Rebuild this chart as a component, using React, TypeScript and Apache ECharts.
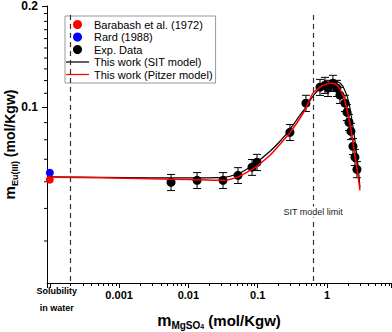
import React, { useEffect, useRef } from 'react';
import * as echarts from 'echarts';

const FONT = '"Liberation Sans", Arial, Helvetica, sans-serif';

// Axis ranges
const X_MIN = 9.1e-5;
const X_MAX = 8.4;
const Y_MIN = 0.03;
const Y_MAX = 0.2;

// Tick labels
const xTickExps = [-4, -3, -2, -1, 0];
const xTickTexts = ['{a|Solubility}\n{b|in water}', '0.001', '0.01', '0.1', '1'];
const yTickValues = [0.1, 0.2];
const yTickTexts = ['0.1', '0.2'];
const yMinorTicks = [0.04, 0.05, 0.06, 0.07, 0.08, 0.09, 0.11, 0.12, 0.13, 0.14, 0.15, 0.16, 0.17, 0.18, 0.19];

// Solubility in water
const barabashX = [1e-4];
const barabashY = [0.0609];
const rardX = [1e-4];
const rardY = [0.0638];

// Experimental data
const expX = [0.00562, 0.01334, 0.0316, 0.052, 0.0828, 0.0978, 0.292, 0.497, 0.793, 0.936, 1.034, 1.22, 1.394, 1.54, 1.818, 1.943, 2.076, 2.219, 2.371, 2.535, 2.709];
const expY = [0.0598, 0.0606, 0.0606, 0.0627, 0.0663, 0.0686, 0.0842, 0.1028, 0.1147, 0.1163, 0.1139, 0.1179, 0.1139, 0.1086, 0.1028, 0.0966, 0.0902, 0.0848, 0.0765, 0.071, 0.0653];
const expErr = [0.0033, 0.0033, 0.0033, 0.0034, 0.0036, 0.0038, 0.0046, 0.0057, 0.0063, 0.0064, 0.0063, 0.0065, 0.0063, 0.006, 0.0057, 0.0053, 0.005, 0.0047, 0.0042, 0.0039, 0.0036];

// SIT model
const sitX = [1e-4, 5.32e-4, 0.0028, 0.01473, 0.0316, 0.052, 0.0828, 0.1011, 0.1506, 0.21, 0.2926, 0.408, 0.498, 0.628, 0.793, 1.034, 1.394, 1.646, 1.879, 2.076, 2.294, 2.534, 2.8, 2.992];
const sitY = [0.06207, 0.06186, 0.06165, 0.06165, 0.06186, 0.06337, 0.06693, 0.06902, 0.07394, 0.0792, 0.08597, 0.09466, 0.1, 0.1078, 0.1139, 0.1175, 0.1191, 0.1163, 0.1101, 0.1028, 0.09146, 0.07976, 0.06717, 0.05776];

// Pitzer model
const pitX = [1e-4, 5.32e-4, 0.0028, 0.01473, 0.0316, 0.052, 0.0828, 0.1011, 0.1506, 0.21, 0.3025, 0.408, 0.498, 0.628, 0.793, 0.967, 1.181, 1.441, 1.701, 1.879, 2.076, 2.294, 2.534, 2.8, 2.992];
const pitY = [0.06186, 0.06165, 0.06122, 0.0608, 0.06059, 0.06207, 0.06534, 0.06717, 0.07193, 0.07757, 0.08482, 0.09273, 0.09932, 0.1101, 0.1147, 0.1171, 0.1179, 0.1155, 0.1086, 0.1014, 0.09273, 0.08251, 0.07193, 0.06272, 0.05657];

// Reference lines
const waterLineX = 1.96e-4;
const sitLimitX = 0.63;
const refLineTop = 0.188;
const sitLabelY = 0.0488;

const LINE_ICON = 'path://M0,0 L24,0 L24,1.3 L0,1.3 Z';

const zip = (xs: number[], ys: number[]) => xs.map((x, i) => [x, ys[i]]);

export default function App() {
  const ref = useRef<HTMLDivElement>(null);
  useEffect(() => {
    if (!ref.current) return;
    const chart = echarts.init(ref.current, undefined, { renderer: 'svg' });
    const option: any = {
      animation: false,
      textStyle: { fontFamily: FONT },
      grid: { left: 47, right: 1, top: 6, bottom: 49, containLabel: false, outerBoundsMode: 'none' },
      legend: {
        left: 65,
        top: 16,
        orient: 'vertical',
        data: [
          { name: 'Barabash et al. (1972)', icon: 'circle' },
          { name: 'Rard (1988)', icon: 'circle' },
          { name: 'Exp. Data', icon: 'circle' },
          { name: 'This work (SIT model)', icon: LINE_ICON },
          { name: 'This work (Pitzer model)', icon: LINE_ICON },
        ],
        backgroundColor: '#fff',
        borderColor: '#999',
        borderWidth: 1,
        padding: [3, 3, 3, 1],
        itemGap: 1.5,
        itemWidth: 23,
        itemHeight: 9,
        textStyle: { fontSize: 11, color: '#000', fontFamily: FONT, lineHeight: 11 },
      },
      xAxis: {
        type: 'log',
        logBase: 10,
        min: X_MIN,
        max: X_MAX,
        axisLine: { lineStyle: { color: '#000', width: 1 } },
        axisTick: { show: true, length: 5, inside: false, lineStyle: { color: '#000' } },
        minorTick: { show: true, splitNumber: 9, length: 3, lineStyle: { color: '#000' } },
        splitLine: { show: false },
        minorSplitLine: { show: false },
        axisLabel: {
          margin: 6,
          fontSize: 11,
          fontWeight: 'bold',
          color: '#000',
          fontFamily: FONT,
          formatter: (v: number) => {
            const e = Math.log10(v);
            const r = Math.round(e);
            if (Math.abs(e - r) > 1e-6) return '';
            const idx = xTickExps.indexOf(r);
            return idx >= 0 ? xTickTexts[idx] : '';
          },
          rich: {
            a: { fontSize: 9, fontWeight: 'bold', color: '#000', fontFamily: FONT, lineHeight: 4, padding: [0, 0, 0, 14] },
            b: { fontSize: 9, fontWeight: 'bold', color: '#000', fontFamily: FONT, lineHeight: 30, padding: [0, 0, 0, 14] },
          },
        },
        name: '{m|m}{s|MgSO}{s2|4}{t| (mol/Kgw)}',
        nameLocation: 'middle',
        nameMoveOverlap: false,
        nameGap: 27,
        nameTextStyle: {
          rich: {
            m: { fontSize: 16, fontWeight: 'bold', color: '#000', fontFamily: FONT, lineHeight: 20 },
            s: { fontSize: 10, fontWeight: 'bold', color: '#000', fontFamily: FONT, verticalAlign: 'bottom', lineHeight: 12 },
            s2: { fontSize: 7, fontWeight: 'bold', color: '#000', fontFamily: FONT, verticalAlign: 'bottom', lineHeight: 7 },
            t: { fontSize: 15, fontWeight: 'bold', color: '#000', fontFamily: FONT, lineHeight: 20 },
          },
        },
      },
      yAxis: {
        type: 'log',
        logBase: 10,
        min: Y_MIN,
        max: Y_MAX,
        axisLine: { show: true, lineStyle: { color: '#000', width: 1 } },
        axisTick: { show: true, length: 5, inside: false, lineStyle: { color: '#000' } },
        minorTick: { show: false },
        splitLine: { show: false },
        axisLabel: {
          margin: 9,
          fontSize: 12,
          fontWeight: 'bold',
          color: '#000',
          fontFamily: FONT,
          showMinLabel: false,
          formatter: (v: number) => {
            for (let i = 0; i < yTickValues.length; i++) {
              if (Math.abs(v - yTickValues[i]) < 1e-6) return yTickTexts[i];
            }
            return '';
          },
        },
        name: '{m|m}{s|Eu(III)}{t| (mol/Kgw)}',
        nameLocation: 'middle',
        nameMoveOverlap: false,
        nameGap: 28,
        nameTextStyle: {
          rich: {
            m: { fontSize: 15, fontWeight: 'bold', color: '#000', fontFamily: FONT, lineHeight: 19 },
            s: { fontSize: 9, fontWeight: 'bold', color: '#000', fontFamily: FONT, verticalAlign: 'bottom', lineHeight: 11 },
            t: { fontSize: 14, fontWeight: 'bold', color: '#000', fontFamily: FONT, lineHeight: 19 },
          },
        },
      },
      series: [
        {
          type: 'custom',
          name: 'yMinor',
          silent: true,
          clip: false,
          data: yMinorTicks.map((v) => [X_MIN, v]),
          renderItem: (params: any, api: any) => {
            const p = api.coord([api.value(0), api.value(1)]);
            return {
              type: 'line',
              shape: { x1: p[0] - 3, y1: p[1], x2: p[0], y2: p[1] },
              style: { stroke: '#000', lineWidth: 1 },
            };
          },
        },
        {
          type: 'custom',
          name: 'errors',
          silent: true,
          z: 3,
          data: expX.map((x, i) => [x, expY[i], expErr[i]]),
          renderItem: (params: any, api: any) => {
            const x = api.value(0);
            const y = api.value(1);
            const e = api.value(2);
            const top = api.coord([x, y + e]);
            const bot = api.coord([x, y - e]);
            const style = { stroke: '#000', lineWidth: 1 };
            return {
              type: 'group',
              children: [
                { type: 'line', shape: { x1: top[0], y1: top[1], x2: bot[0], y2: bot[1] }, style },
                { type: 'line', shape: { x1: top[0] - 4, y1: top[1], x2: top[0] + 4, y2: top[1] }, style },
                { type: 'line', shape: { x1: bot[0] - 4, y1: bot[1], x2: bot[0] + 4, y2: bot[1] }, style },
              ],
            };
          },
        },
        {
          type: 'scatter',
          name: 'Exp. Data',
          z: 4,
          symbol: 'circle',
          symbolSize: 9,
          itemStyle: { color: '#000', opacity: 1 },
          data: zip(expX, expY),
        },
        {
          type: 'scatter',
          name: 'Rard (1988)',
          z: 4,
          symbol: 'circle',
          symbolSize: 8,
          itemStyle: { color: '#0000ff', opacity: 1 },
          data: zip(rardX, rardY),
        },
        {
          type: 'scatter',
          name: 'Barabash et al. (1972)',
          z: 4,
          symbol: 'circle',
          symbolSize: 8,
          itemStyle: { color: '#ff0000', opacity: 1 },
          data: zip(barabashX, barabashY),
        },
        {
          type: 'line',
          name: 'This work (SIT model)',
          z: 5,
          symbol: 'none',
          showSymbol: false,
          smooth: 0.3,
          lineStyle: { color: '#000', width: 1.2 },
          itemStyle: { color: '#000' },
          data: zip(sitX, sitY),
          markLine: {
            silent: true,
            symbol: 'none',
            label: { show: false },
            lineStyle: { color: '#333', width: 1.2, type: [5, 4] },
            data: [
              [{ coord: [waterLineX, refLineTop] }, { coord: [waterLineX, Y_MIN] }],
              [{ coord: [sitLimitX, refLineTop] }, { coord: [sitLimitX, Y_MIN] }],
            ],
          },
          markPoint: {
            silent: true,
            symbol: 'circle',
            symbolSize: 0,
            data: [{ coord: [sitLimitX, sitLabelY], value: 'SIT model limit' }],
            label: {
              show: true,
              position: 'inside',
              formatter: 'SIT model limit',
              fontSize: 9,
              color: '#222',
              fontFamily: FONT,
              backgroundColor: '#fff',
              padding: [1, 0],
            },
          },
        },
        {
          type: 'line',
          name: 'This work (Pitzer model)',
          z: 6,
          symbol: 'none',
          showSymbol: false,
          smooth: 0.3,
          lineStyle: { color: '#ff0000', width: 1.5 },
          itemStyle: { color: '#ff0000' },
          data: zip(pitX, pitY),
        },
      ],
    };
    chart.setOption(option);
    return () => chart.dispose();
  }, []);
  return <div ref={ref} style={{ width: 392, height: 332, position: 'absolute', left: 0, top: 0 }} />;
}
